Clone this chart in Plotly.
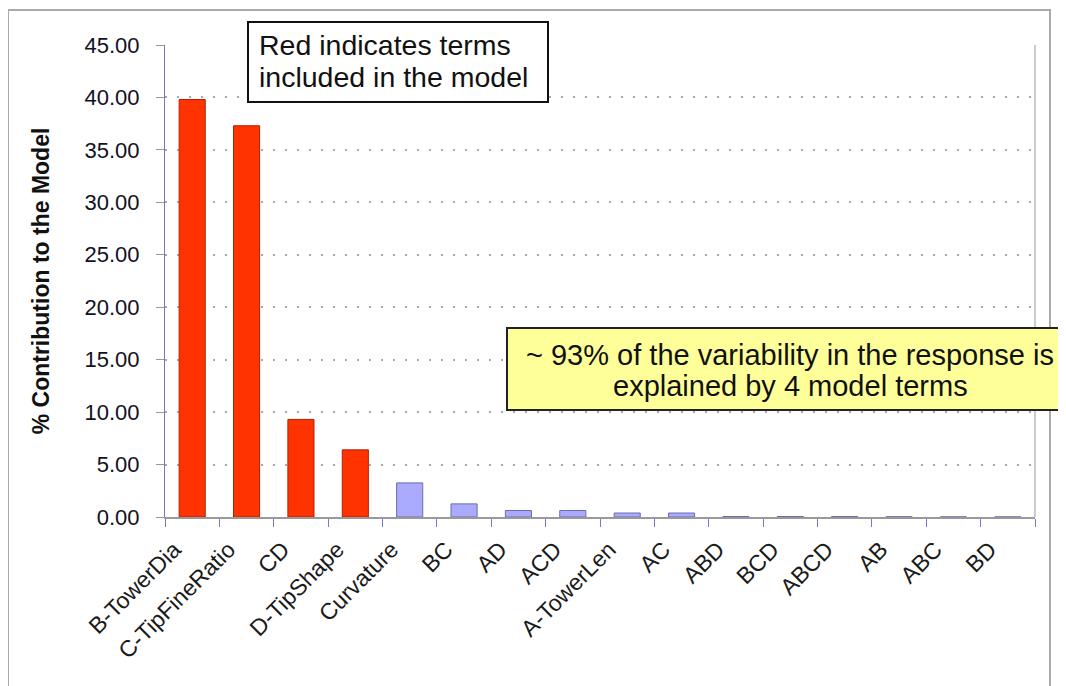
import plotly.graph_objects as go

categories = ["B-TowerDia", "C-TipFineRatio", "CD", "D-TipShape", "Curvature", "BC", "AD", "ACD",
              "A-TowerLen", "AC", "ABD", "BCD", "ABCD", "AB", "ABC", "BD"]
contribution = [39.8, 37.3, 9.3, 6.4, 3.25, 1.25, 0.62, 0.62, 0.38, 0.38, 0.05, 0.05, 0.05, 0.02, 0.01, 0.01]
in_model = [True, True, True, True] + [False] * 12
y_ticks = [0, 5, 10, 15, 20, 25, 30, 35, 40, 45]

fill = ["#FF3300" if m else "#AAAAFF" for m in in_model]
edge = ["#B02000" if m else "#6B6BA8" for m in in_model]

OFF = 8  # page body margin
FW, FH = 1066 - OFF, 686 - OFF

fig = go.Figure(go.Bar(
    x=categories, y=contribution,
    marker=dict(color=fill, line=dict(color=edge, width=1)),
))

# plot area in reference page pixels
L, R, T, B = 165, 1035, 45, 517
W, H = R - L, B - T
def px(x): return (x - L) / W
def py(y): return (B - y) / H

fig.update_layout(
    width=FW, height=FH,
    margin=dict(l=L - OFF, r=FW - (R - OFF), t=T - OFF, b=FH - (B - OFF)),
    paper_bgcolor="white", plot_bgcolor="white",
    bargap=0.52,
    showlegend=False,
    font=dict(family="Liberation Sans, Arial, sans-serif", color="#111111"),
    xaxis=dict(
        type="category", tickson="boundaries", ticks="outside", ticklen=8,
        tickcolor="#7777CC", tickwidth=1,
        showline=True, linecolor="#999999", linewidth=2,
        tickangle=-45, tickfont=dict(size=23, color="#1a1a1a"),
        ticklabelshift=-18, ticklabelstandoff=8,
        showgrid=False,
    ),
    yaxis=dict(
        range=[0, 45], tickvals=y_ticks, tickformat=".2f",
        ticks="outside", ticklen=8, tickcolor="#999999",
        ticklabelstandoff=12,
        showline=True, linecolor="#7777BB", linewidth=1,
        showgrid=True, gridcolor="#AAAAAA", griddash="2px,10px", gridwidth=1.5,
        tickfont=dict(size=22, color="#111122"),
        zeroline=False,
        title=dict(text="<b>% Contribution to the Model</b>", font=dict(size=23, color="#111111"), standoff=28),
    ),
)

shapes = [
    # outer chart border
    dict(type="rect", xref="paper", yref="paper", x0=px(8), x1=px(1050), y0=py(700), y1=py(10),
         line=dict(color="#AAAAAA", width=2), fillcolor="rgba(0,0,0,0)", layer="below"),
    # right plot border
    dict(type="line", xref="paper", yref="paper", x0=1, x1=1, y0=0, y1=1,
         line=dict(color="#BBBBBB", width=1.5)),
    # red note box
    dict(type="rect", xref="paper", yref="paper", x0=px(248), x1=px(548), y0=py(102), y1=py(22),
         line=dict(color="#111111", width=2), fillcolor="white", layer="above"),
    # yellow note box
    dict(type="rect", xref="paper", yref="paper", x0=px(507), x1=px(1062), y0=py(410), y1=py(328),
         line=dict(color="#222222", width=2), fillcolor="#FFFF99", layer="above"),
]
fig.update_layout(shapes=shapes)

note1 = ["Red indicates terms", "included in the model"]
note2 = ["~ 93% of the variability in the response is", "explained by 4 model terms"]
for i, line in enumerate(note1):
    fig.add_annotation(xref="paper", yref="paper", x=px(257), y=py(45 + 32 * i), xanchor="left", yanchor="middle",
                       text=line, showarrow=False, font=dict(size=28.5, color="#111111"))
for i, line in enumerate(note2):
    fig.add_annotation(xref="paper", yref="paper", x=px(790), y=py(355 + 31 * i), xanchor="center", yanchor="middle",
                       text=line, showarrow=False, font=dict(size=29, color="#111111"))

fig.write_html("out.html")
